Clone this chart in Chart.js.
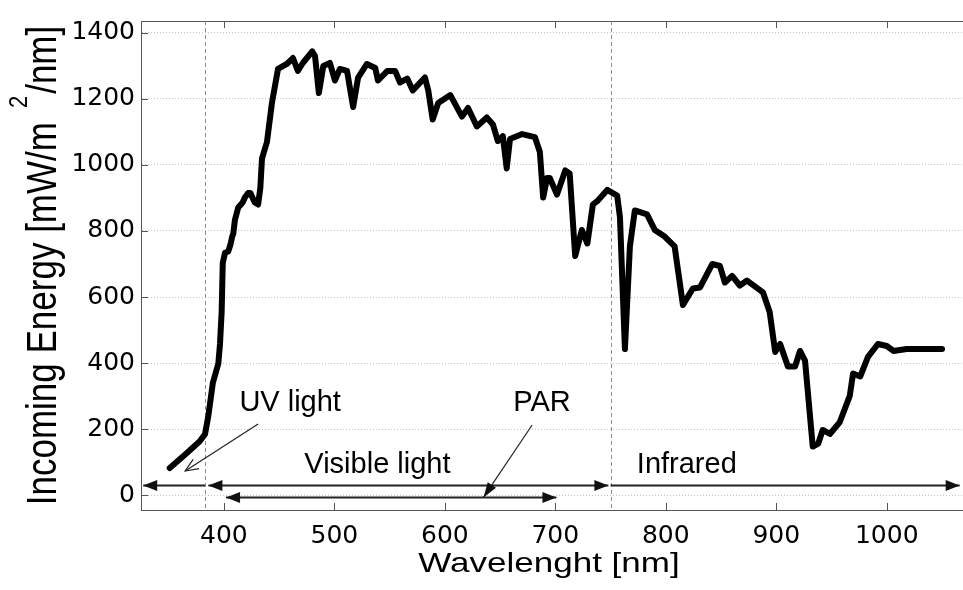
<!DOCTYPE html>
<html>
<head>
<meta charset="utf-8">
<script src="https://cdn.jsdelivr.net/npm/chart.js@4.4.1/dist/chart.umd.min.js"></script>
<style>
  html, body { margin: 0; padding: 0; background: #fff; overflow: hidden; }
</style>
</head>
<body>
<canvas id="myChart" width="963" height="590"></canvas>
<script>
// spectrum: wavelength [nm] and energy [mW/m2/nm]
const wavelength = [351, 365, 378, 383, 386, 390, 395, 396.5, 398, 399, 401, 404, 406, 407.5, 408.5, 410, 413, 417, 419, 422,
  424, 428, 431, 433, 434.5, 439, 443.5, 449, 457, 462.5, 467, 471.5, 480, 482.5, 486, 490, 496, 500.5, 505, 511.5,
  517, 521.5, 529.5, 537, 539.5, 548, 555, 559.5, 566, 571, 582, 585, 589, 594, 605, 615.5, 621, 629, 638, 643.5,
  648, 652.5, 656, 659, 670, 681.5, 686, 689, 692.5, 695, 701.5, 709, 713, 718, 724, 729, 734, 738.5, 747, 756,
  758.5, 763, 767.5, 772, 783, 790, 799, 808, 815.5, 824.5, 831, 842, 849, 853.5, 860, 867, 873.5, 888, 894, 899,
  903.5, 910.5, 917, 921.5, 926, 933, 938, 942, 948.5, 957.5, 966.5, 969.5, 976, 983, 992, 1000, 1006, 1018, 1033, 1050];
const energy = [83, 124, 163, 186, 242, 340, 399, 458, 555, 703, 734, 738, 759, 783, 791, 833, 871, 886, 901, 915,
  915, 886, 880, 930, 1019, 1069, 1187, 1290, 1305, 1323, 1284, 1308, 1343, 1329, 1217, 1299, 1308, 1255, 1290, 1284,
  1175, 1264, 1305, 1293, 1255, 1284, 1284, 1249, 1261, 1225, 1264, 1225, 1137, 1187, 1211, 1146, 1172, 1116, 1143, 1122,
  1072, 1087, 989, 1078, 1093, 1084, 1039, 901, 960, 960, 910, 983, 974, 724, 803, 762, 880, 892, 924, 907,
  842, 443, 753, 862, 850, 803, 783, 753, 576, 626, 629, 700, 694, 644, 664, 635, 650, 614, 555, 434,
  458, 390, 390, 437, 408, 148, 157, 198, 186, 222, 301, 369, 360, 419, 458, 452, 437, 443, 443, 443];

const xTicks = [400, 500, 600, 700, 800, 900, 1000];
const yTicks = [0, 200, 400, 600, 800, 1000, 1200, 1400];

// band limits (dashed) and the band arrows
const bandEdges = [383, 750];
const spanFrom = [383, 386, 750, 402];
const spanTo = [327, 748, 1066, 701];
const spanLevel = [30, 30, 30, -6];
const spanBoth = [false, true, false, true];

const bandLabels = ['UV light', 'PAR', 'Visible light', 'Infrared'];
const labelX = [460, 688, 539, 819];
const labelY = [254, 254, 68, 68];

// pointer arrows: UV light, PAR
const pointerFrom = [[431, 216], [679, 213]];
const pointerTo = [[365, 74], [635, -6]];

function arrowHead(ctx, x0, y0, x1, y1, len, half, filled) {
  const ang = Math.atan2(y1 - y0, x1 - x0);
  const bx = x1 - len * Math.cos(ang), by = y1 - len * Math.sin(ang);
  const nx = -Math.sin(ang) * half, ny = Math.cos(ang) * half;
  ctx.beginPath();
  if (filled) {
    ctx.moveTo(x1, y1);
    ctx.lineTo(bx + nx, by + ny);
    ctx.lineTo(bx - nx, by - ny);
    ctx.closePath();
    ctx.fill();
  } else {
    ctx.moveTo(bx + nx, by + ny);
    ctx.lineTo(x1, y1);
    ctx.lineTo(bx - nx, by - ny);
    ctx.stroke();
  }
}

const decor = {
  id: 'decor',
  beforeDatasetsDraw(chart) {
    const { ctx, chartArea: a, scales: { x, y } } = chart;
    ctx.save();
    // top of the box + ticks pointing inside
    ctx.strokeStyle = '#555';
    ctx.lineWidth = 1;
    ctx.beginPath();
    ctx.moveTo(a.left, a.top + 0.5);
    ctx.lineTo(a.right, a.top + 0.5);
    for (const v of xTicks) {
      const px = Math.round(x.getPixelForValue(v)) + 0.5;
      ctx.moveTo(px, a.bottom); ctx.lineTo(px, a.bottom - 7);
      ctx.moveTo(px, a.top); ctx.lineTo(px, a.top + 7);
    }
    for (const v of yTicks) {
      const py = Math.round(y.getPixelForValue(v)) + 0.5;
      ctx.moveTo(a.left, py); ctx.lineTo(a.left + 7, py);
    }
    ctx.stroke();

    // dashed band limits
    ctx.strokeStyle = '#8c8c8c';
    ctx.setLineDash([4, 3]);
    ctx.beginPath();
    for (const v of bandEdges) {
      const px = Math.round(x.getPixelForValue(v)) + 0.5;
      ctx.moveTo(px, a.top); ctx.lineTo(px, a.bottom);
    }
    ctx.stroke();
    ctx.setLineDash([]);

    // band arrows
    ctx.strokeStyle = '#222';
    ctx.fillStyle = '#111';
    ctx.lineWidth = 2;
    for (let i = 0; i < spanFrom.length; i++) {
      const x0 = x.getPixelForValue(spanFrom[i]);
      const x1 = x.getPixelForValue(spanTo[i]);
      const py = y.getPixelForValue(spanLevel[i]);
      ctx.beginPath();
      ctx.moveTo(x0, py); ctx.lineTo(x1, py);
      ctx.stroke();
      arrowHead(ctx, x0, py, x1, py, 14, 5.5, true);
      if (spanBoth[i]) arrowHead(ctx, x1, py, x0, py, 14, 5.5, true);
    }
    ctx.restore();
  },
  afterDatasetsDraw(chart) {
    const { ctx, scales: { x, y } } = chart;
    ctx.save();
    ctx.fillStyle = '#000';
    ctx.font = '29px "Liberation Sans", Arial, sans-serif';
    ctx.textAlign = 'center';
    ctx.textBaseline = 'alphabetic';
    bandLabels.forEach((t, i) => {
      ctx.fillText(t, x.getPixelForValue(labelX[i]), y.getPixelForValue(labelY[i]));
    });

    ctx.strokeStyle = '#222';
    ctx.fillStyle = '#111';
    ctx.lineWidth = 1.2;
    pointerFrom.forEach((p, i) => {
      const x0 = x.getPixelForValue(p[0]), y0 = y.getPixelForValue(p[1]);
      const x1 = x.getPixelForValue(pointerTo[i][0]), y1 = y.getPixelForValue(pointerTo[i][1]);
      ctx.beginPath();
      ctx.moveTo(x0, y0); ctx.lineTo(x1, y1);
      ctx.stroke();
      arrowHead(ctx, x0, y0, x1, y1, i === 0 ? 13 : 15, i === 0 ? 5.5 : 5, i !== 0);
    });
    ctx.restore();
  },
  afterDraw(chart) {
    const { ctx, chartArea: a } = chart;
    ctx.save();
    ctx.fillStyle = '#000';
    ctx.textBaseline = 'alphabetic';

    // x title (the figure is a bit stretched sideways)
    ctx.font = '28px "Liberation Sans", Arial, sans-serif';
    ctx.textAlign = 'center';
    ctx.translate((a.left + a.right) / 2 - 3, 572);
    ctx.scale(1.25, 1);
    ctx.fillText('Wavelenght [nm]', 0, 0);
    ctx.setTransform(1, 0, 0, 1, 0, 0);

    // y title with the raised 2
    const main = 'Incoming Energy [mW/m', tail = '/nm]';
    ctx.font = '35px "Liberation Sans", Arial, sans-serif';
    const wMain = ctx.measureText(main).width, wTail = ctx.measureText(tail).width;
    ctx.font = '22px "Liberation Sans", Arial, sans-serif';
    const wSup = ctx.measureText('2').width;
    const gap = 14;
    const total = wMain + gap + wSup + 2 + wTail;
    ctx.translate(56, (a.top + a.bottom) / 2 + total / 2);
    ctx.scale(1.2, 1);
    ctx.rotate(-Math.PI / 2);
    ctx.textAlign = 'left';
    ctx.font = '35px "Liberation Sans", Arial, sans-serif';
    ctx.fillText(main, 0, 0);
    ctx.fillText(tail, wMain + gap + wSup + 2, 0);
    ctx.font = '22px "Liberation Sans", Arial, sans-serif';
    ctx.fillText('2', wMain + gap, -24);
    ctx.restore();
  }
};

const ctx = document.getElementById('myChart').getContext('2d');
window.myLine = new Chart(ctx, {
  type: 'line',
  data: {
    datasets: [{
      data: wavelength.map((w, i) => ({ x: w, y: energy[i] })),
      borderColor: '#000',
      borderWidth: 6,
      pointRadius: 0,
      tension: 0,
      fill: false,
      borderJoinStyle: 'round',
      borderCapStyle: 'round'
    }]
  },
  options: {
    responsive: false,
    animation: false,
    devicePixelRatio: 1,
    layout: { padding: { top: 9, left: 0, right: 0, bottom: 0 } },
    plugins: { legend: { display: false }, tooltip: { enabled: false } },
    scales: {
      x: {
        type: 'linear',
        min: 325,
        max: 1069,
        afterBuildTicks: s => { s.ticks = xTicks.map(v => ({ value: v })); },
        afterFit: s => { s.height = 80; },
        grid: { display: false, drawTicks: false },
        border: { display: true, color: '#555', width: 1 },
        ticks: {
          font: { family: 'DejaVu Sans', size: 25 }, color: '#000', padding: 11,
          maxRotation: 0, autoSkip: false, callback: v => String(v)
        }
      },
      y: {
        type: 'linear',
        min: -44,
        max: 1435,
        afterBuildTicks: s => { s.ticks = yTicks.map(v => ({ value: v })); },
        afterFit: s => { s.width = 141; },
        grid: { color: '#c4c4c4', lineWidth: 1, drawTicks: false },
        border: { display: true, color: '#555', width: 1, dash: [1, 2] },
        ticks: {
          font: { family: 'DejaVu Sans', size: 25 }, color: '#000', padding: 6,
          autoSkip: false, callback: v => String(v)
        }
      }
    }
  },
  plugins: [decor]
});
</script>
</body>
</html>
